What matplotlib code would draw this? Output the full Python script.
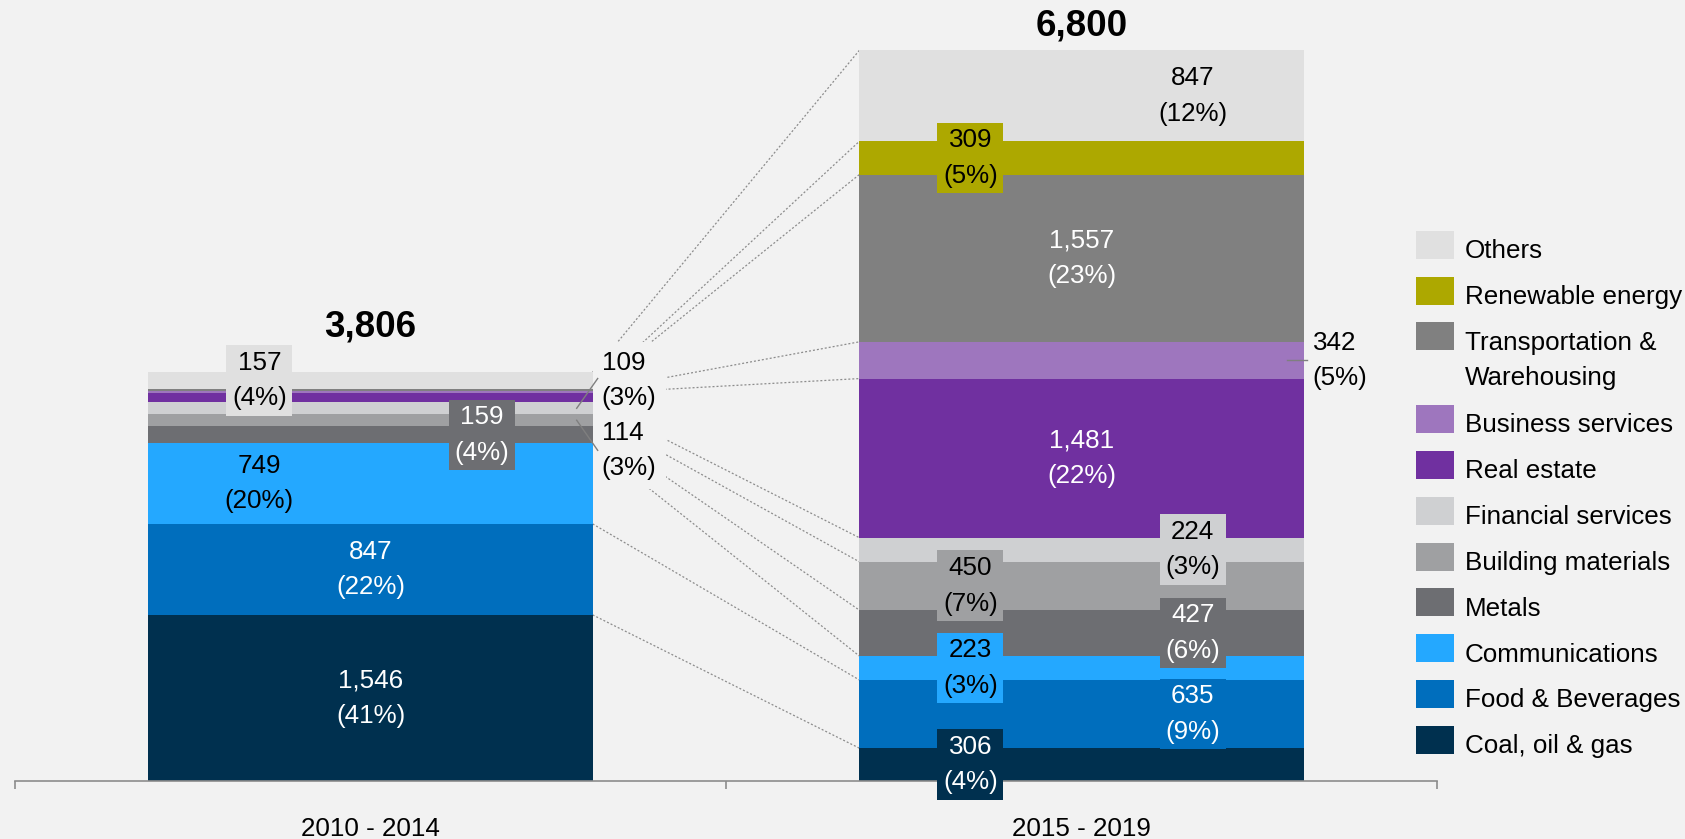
import matplotlib
matplotlib.use('Agg')
import matplotlib.pyplot as plt
from matplotlib.patches import Rectangle
import numpy as np

plt.rcParams['font.family'] = ['Liberation Sans', 'DejaVu Sans']

# data (bottom to top of each stack)
periods = ['2010 - 2014', '2015 - 2019']
categories = ['Coal, oil & gas', 'Food & Beverages', 'Communications', 'Metals',
              'Building materials', 'Financial services', 'Real estate',
              'Business services', 'Transportation &\nWarehousing',
              'Renewable energy', 'Others']
vals_2010 = [1546, 847, 749, 159, 114, 109, 85, 20, 20, 0, 157]
vals_2015 = [306, 635, 223, 427, 450, 224, 1481, 342, 1557, 309, 847]
pct_2010 = [41, 22, 20, 4, 3, 3, None, None, None, None, 4]
pct_2015 = [4, 9, 3, 6, 7, 3, 22, 5, 23, 5, 12]
totals = [3806, 6800]

colors = ['#00304F', '#006EBD', '#24A8FF', '#6D6E72', '#9FA0A2', '#CFD0D2',
          '#7030A0', '#9E76BE', '#808080', '#ADA800', '#E0E0E0']
dark = {'#00304F', '#006EBD', '#6D6E72', '#7030A0', '#808080'}

# where each label goes: c=centre, l/r=left/right column, o=outside, None=no label
pos_2010 = ['c', 'c', 'l', 'r', 'o', 'o', None, None, None, None, 'l']
pos_2015 = ['l', 'r', 'l', 'r', 'l', 'r', 'c', 'o', 'c', 'l', 'r']

BG = '#F2F2F2'
W, H = 1685, 839
FS = 18.7
LS = 1.6

fig = plt.figure(figsize=(W / 100, H / 100), dpi=100, facecolor=BG)
ax = fig.add_axes([15 / W, 58 / H, 1422 / W, 781 / H])
ax.set_facecolor('none')
ytop = 7270
ax.set_xlim(-0.5, 1.5)
ax.set_ylim(0, ytop)
px_x = 1 / 711.0      # data units per pixel
px_y = ytop / 781.0

bar_w = 0.625
x = np.arange(len(periods))
all_vals = [vals_2010, vals_2015]
all_pct = [pct_2010, pct_2015]
all_pos = [pos_2010, pos_2015]
cums = [np.concatenate([[0], np.cumsum(v)]) for v in all_vals]

for i in range(len(periods)):
    ax.bar(x[i], all_vals[i], bottom=cums[i][:-1], width=bar_w, color=colors,
           linewidth=0, zorder=2)

# dotted connectors between segment boundaries
xa = x[0] + bar_w / 2
xb = x[1] - bar_w / 2
for k in range(1, len(categories) + 1):
    ax.plot([xa, xb], [cums[0][k], cums[1][k]], color='#8C8C8C', lw=0.9,
            ls=(0, (1.6, 1.6)), zorder=1)

# outside label anchors for the thin left-bar segments
out_y_2010 = {5: totals[0] - 78, 4: totals[0] - 728}

for i in range(len(periods)):
    vals, pcts, poss, cum = all_vals[i], all_pct[i], all_pos[i], cums[i]
    for j, v in enumerate(vals):
        p = poss[j]
        if p is None:
            continue
        txt = f'{v:,}\n({pcts[j]}%)'
        yc = cum[j] + v / 2
        if p == 'o':
            edge = x[i] + bar_w / 2
            if i == 0:
                ly = out_y_2010[j]
                ax.text(edge + 9 * px_x, ly, txt, ha='left', va='center', fontsize=FS,
                        linespacing=LS, color='black', zorder=4,
                        bbox=dict(boxstyle='square,pad=0.35', fc=BG, ec='none'))
                end = ly + 2 * px_y if j == 5 else ly
                ax.plot([edge - 16 * px_x, edge + 5 * px_x], [yc, end],
                        color='#7F7F7F', lw=1, zorder=5)
            else:
                ax.text(edge + 9 * px_x, yc, txt, ha='left', va='center', fontsize=FS,
                        linespacing=LS, color='black', zorder=4,
                        bbox=dict(boxstyle='square,pad=0.2', fc=BG, ec='none'))
                ax.plot([edge - 17 * px_x, edge + 3 * px_x], [yc, yc],
                        color='#7F7F7F', lw=1, zorder=5)
            continue
        xc = x[i] + {'c': 0, 'l': -bar_w / 4, 'r': bar_w / 4}[p]
        tc = 'white' if colors[j] in dark else 'black'
        ax.text(xc, yc, txt, ha='center', va='center', fontsize=FS, linespacing=LS,
                color=tc, zorder=4,
                bbox=dict(boxstyle='square,pad=0.22', fc=colors[j], ec='none'))

# totals
for i, t in enumerate(totals):
    off = [420, 228][i]
    ax.text(x[i], t + off, f'{t:,}', ha='center', va='center', fontsize=26.5,
            fontweight='bold', color='black')

# axis styling
for s in ['top', 'right', 'left']:
    ax.spines[s].set_visible(False)
ax.spines['bottom'].set_color('#8C8C8C')
ax.spines['bottom'].set_linewidth(1.2)
ax.set_yticks([])
ax.set_xticks(x, periods, fontsize=FS)
ax.tick_params(axis='x', which='major', length=0, pad=26)
ax.set_xticks([-0.5, 0.5, 1.5], minor=True)
ax.tick_params(axis='x', which='minor', length=6, width=1.2, color='#8C8C8C')

# legend, top to bottom
for i, j in enumerate(range(len(categories) - 1, -1, -1)):
    yc = 244.8 + 45.8 * i + (37 if i > 2 else 0)
    fig.patches.append(Rectangle((1416 / W, 1 - (yc + 14) / H), 38 / W, 28 / H,
                                 transform=fig.transFigure, fc=colors[j], ec='none'))
    for n, line in enumerate(categories[j].split('\n')):
        fig.text(1465 / W, 1 - (yc + 13.3 + 35.5 * n) / H, line, fontsize=FS,
                 va='baseline', ha='left', color='black')

fig.savefig('out.png', dpi=100, facecolor=BG)
